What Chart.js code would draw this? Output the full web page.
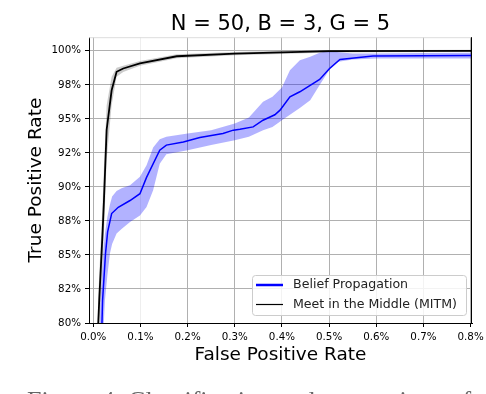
<!DOCTYPE html>
<html>
<head>
<meta charset="utf-8">
<script src="https://cdn.jsdelivr.net/npm/chart.js@4"></script>
<style>
  html, body { margin: 0; padding: 0; background: #fff; }
  canvas { display: block; }
</style>
</head>
<body>
<canvas id="roc" width="486" height="394"></canvas>
<script>
// values are in percent
const xTicks = [0, 0.1, 0.2, 0.3, 0.4, 0.5, 0.6, 0.7, 0.8];
const xTickLabels = ["0.0%", "0.1%", "0.2%", "0.3%", "0.4%", "0.5%", "0.6%", "0.7%", "0.8%"];
const yTicks = [80, 82.5, 85, 87.5, 90, 92.5, 95, 97.5, 100];
const yTickLabels = ["80%", "82%", "85%", "88%", "90%", "92%", "95%", "98%", "100%"];

// Belief Propagation mean curve
const bpX = [0.017, 0.0198, 0.026, 0.0305, 0.039, 0.053, 0.078, 0.099, 0.113, 0.141, 0.155, 0.191, 0.226, 0.275, 0.297, 0.311, 0.339, 0.36, 0.385, 0.396, 0.417, 0.438, 0.48, 0.501, 0.523, 0.593, 0.803];
const bpY = [78, 81.67, 85.1, 86.7, 88.04, 88.5, 89.0, 89.5, 90.7, 92.7, 93.07, 93.3, 93.63, 93.93, 94.17, 94.24, 94.41, 94.9, 95.3, 95.64, 96.62, 96.99, 97.9, 98.7, 99.37, 99.61, 99.66];

// Belief Propagation band
const bpBandX = [0.012, 0.0156, 0.021, 0.0248, 0.03, 0.0354, 0.04, 0.0495, 0.06, 0.078, 0.099, 0.113, 0.127, 0.141, 0.155, 0.2, 0.25, 0.3, 0.33, 0.36, 0.38, 0.4, 0.417, 0.438, 0.46, 0.48, 0.5, 0.52, 0.55, 0.6, 0.7, 0.803];
const bpUpper = [78, 81.67, 85.1, 86.57, 87.8, 88.7, 89.3, 89.7, 89.9, 90.13, 90.74, 91.6, 92.9, 93.5, 93.68, 93.93, 94.17, 94.66, 95.1, 96.25, 96.62, 97.3, 98.58, 99.3, 99.56, 99.85, 100.0, 99.9, 99.8, 99.8, 99.83, 99.85];
const bpLower = [75, 77, 79, 81.67, 83.5, 85.1, 85.8, 86.57, 86.9, 87.43, 87.9, 88.53, 89.76, 91.7, 92.4, 92.7, 93.07, 93.43, 93.68, 94.17, 94.41, 94.9, 95.3, 95.8, 96.37, 97.48, 98.58, 99.19, 99.37, 99.44, 99.44, 99.44];

// Meet in the Middle mean curve and band
const mitmX = [0.009, 0.0106, 0.0127, 0.02, 0.0227, 0.0284, 0.039, 0.0495, 0.0636, 0.099, 0.177, 0.3, 0.4, 0.5, 0.803];
const mitmY = [78, 80, 81.67, 86.8, 89.0, 94.2, 97.1, 98.46, 98.7, 99.07, 99.6, 99.8, 99.88, 99.97, 100.0];
const mitmUpper = [80, 82, 83.5, 89, 91.5, 96, 98.1, 98.75, 98.9, 99.25, 99.75, 99.92, 100.0, 100.05, 100.08];
const mitmLower = [76, 78, 79.5, 84.5, 86.5, 92, 96, 98.1, 98.45, 98.9, 99.45, 99.68, 99.76, 99.88, 99.92];

const seriesNames = ["Belief Propagation", "Meet in the Middle (MITM)"];

const pts = (xs, ys) => xs.map((x, i) => ({ x: x, y: ys[i] }));

Chart.defaults.font.family = "'DejaVu Sans', sans-serif";
Chart.defaults.color = "#000";

// legend box, frame, caption
const extras = {
  id: "extras",
  afterDatasetsDraw(chart) {
    const { ctx, chartArea: a } = chart;
    ctx.save();
    ctx.lineWidth = 1;
    ctx.strokeStyle = "#dddddd";
    ctx.beginPath();
    ctx.moveTo(a.left, a.top + 0.5);
    ctx.lineTo(a.right, a.top + 0.5);
    ctx.stroke();
    ctx.strokeStyle = "#000";
    ctx.beginPath();
    ctx.moveTo(a.right - 0.5, a.top);
    ctx.lineTo(a.right - 0.5, a.bottom);
    ctx.stroke();

    // legend
    const bx = 252, by = 275, bw = 214, bh = 40;
    ctx.fillStyle = "rgba(255,255,255,0.85)";
    ctx.strokeStyle = "#cccccc";
    ctx.beginPath();
    ctx.roundRect(bx + 0.5, by + 0.5, bw, bh, 3);
    ctx.fill();
    ctx.stroke();
    const rows = [
      { y: 285, color: "#0000ff", w: 2.5 },
      { y: 304.5, color: "#000000", w: 1.2 }
    ];
    ctx.font = "12.6px 'DejaVu Sans'";
    ctx.textBaseline = "middle";
    rows.forEach((r, i) => {
      ctx.strokeStyle = r.color;
      ctx.lineWidth = r.w;
      ctx.beginPath();
      ctx.moveTo(256, r.y);
      ctx.lineTo(283, r.y);
      ctx.stroke();
      ctx.fillStyle = "#222";
      ctx.fillText(seriesNames[i], 293, r.y);
    });
    ctx.restore();
  },
  afterDraw(chart) {
    const ctx = chart.ctx;
    ctx.save();
    ctx.fillStyle = "#666";
    ctx.font = "26px 'Liberation Serif'";
    ctx.textBaseline = "alphabetic";
    ctx.fillText("Figure 4: Classification and comparison of", 27, 409);
    ctx.restore();
  }
};

new Chart(document.getElementById("roc"), {
  type: "line",
  data: {
    datasets: [
      { label: seriesNames[0], data: pts(bpX, bpY), borderColor: "#0000ff", borderWidth: 1.5, pointRadius: 0, fill: false },
      { label: seriesNames[1], data: pts(mitmX, mitmY), borderColor: "#000000", borderWidth: 1.8, pointRadius: 0, fill: false },
      { data: pts(bpBandX, bpLower), borderWidth: 0, pointRadius: 0, fill: false },
      { data: pts(bpBandX, bpUpper), borderWidth: 0, pointRadius: 0, fill: "-1", backgroundColor: "rgba(0,0,255,0.3)" },
      { data: pts(mitmX, mitmLower), borderWidth: 0, pointRadius: 0, fill: false },
      { data: pts(mitmX, mitmUpper), borderWidth: 0, pointRadius: 0, fill: "-1", backgroundColor: "rgba(0,0,0,0.2)" }
    ]
  },
  options: {
    responsive: false,
    animation: false,
    layout: { padding: { left: 0, right: 8, top: 0, bottom: 0 } },
    elements: { line: { tension: 0 } },
    plugins: {
      legend: { display: false },
      tooltip: { enabled: false },
      title: {
        display: true,
        text: "N = 50, B = 3, G = 5",
        fullSize: false,
        color: "#000",
        font: { size: 21, weight: "normal" },
        padding: { top: 12, bottom: 0 }
      }
    },
    scales: {
      x: {
        type: "linear",
        min: -0.009,
        max: 0.803,
        afterBuildTicks: s => { s.ticks = xTicks.map(v => ({ value: v })); },
        afterFit: s => { s.height = 71; s.paddingRight = 14; s.paddingLeft = 0; },
        ticks: {
          autoSkip: false,
          maxRotation: 0,
          padding: 4,
          font: { size: 10.3 },
          callback: (v) => xTickLabels[xTicks.indexOf(v)]
        },
        grid: {
          color: ctx => (ctx.tick && Math.abs(ctx.tick.value - 0.1) < 1e-6) ? "#eeeeee" : "#b0b0b0",
          tickColor: "#000",
          tickLength: 4
        },
        border: { color: "#000", width: 1 },
        title: {
          display: true,
          text: "False Positive Rate",
          font: { size: 18.5 },
          padding: { top: 0, bottom: 28 }
        }
      },
      y: {
        type: "linear",
        min: 80,
        max: 101.0,
        afterBuildTicks: s => { s.ticks = yTicks.map(v => ({ value: v })); },
        afterFit: s => { s.width = 89; },
        ticks: {
          padding: 4,
          font: { size: 10.3 },
          callback: (v) => yTickLabels[yTicks.indexOf(v)]
        },
        grid: { color: "#b0b0b0", tickColor: "#000", tickLength: 4 },
        border: { color: "#000", width: 1 },
        title: {
          display: true,
          text: "True Positive Rate",
          font: { size: 18.5 },
          padding: { top: 25, bottom: 0 }
        }
      }
    }
  },
  plugins: [extras]
});
</script>
</body>
</html>
